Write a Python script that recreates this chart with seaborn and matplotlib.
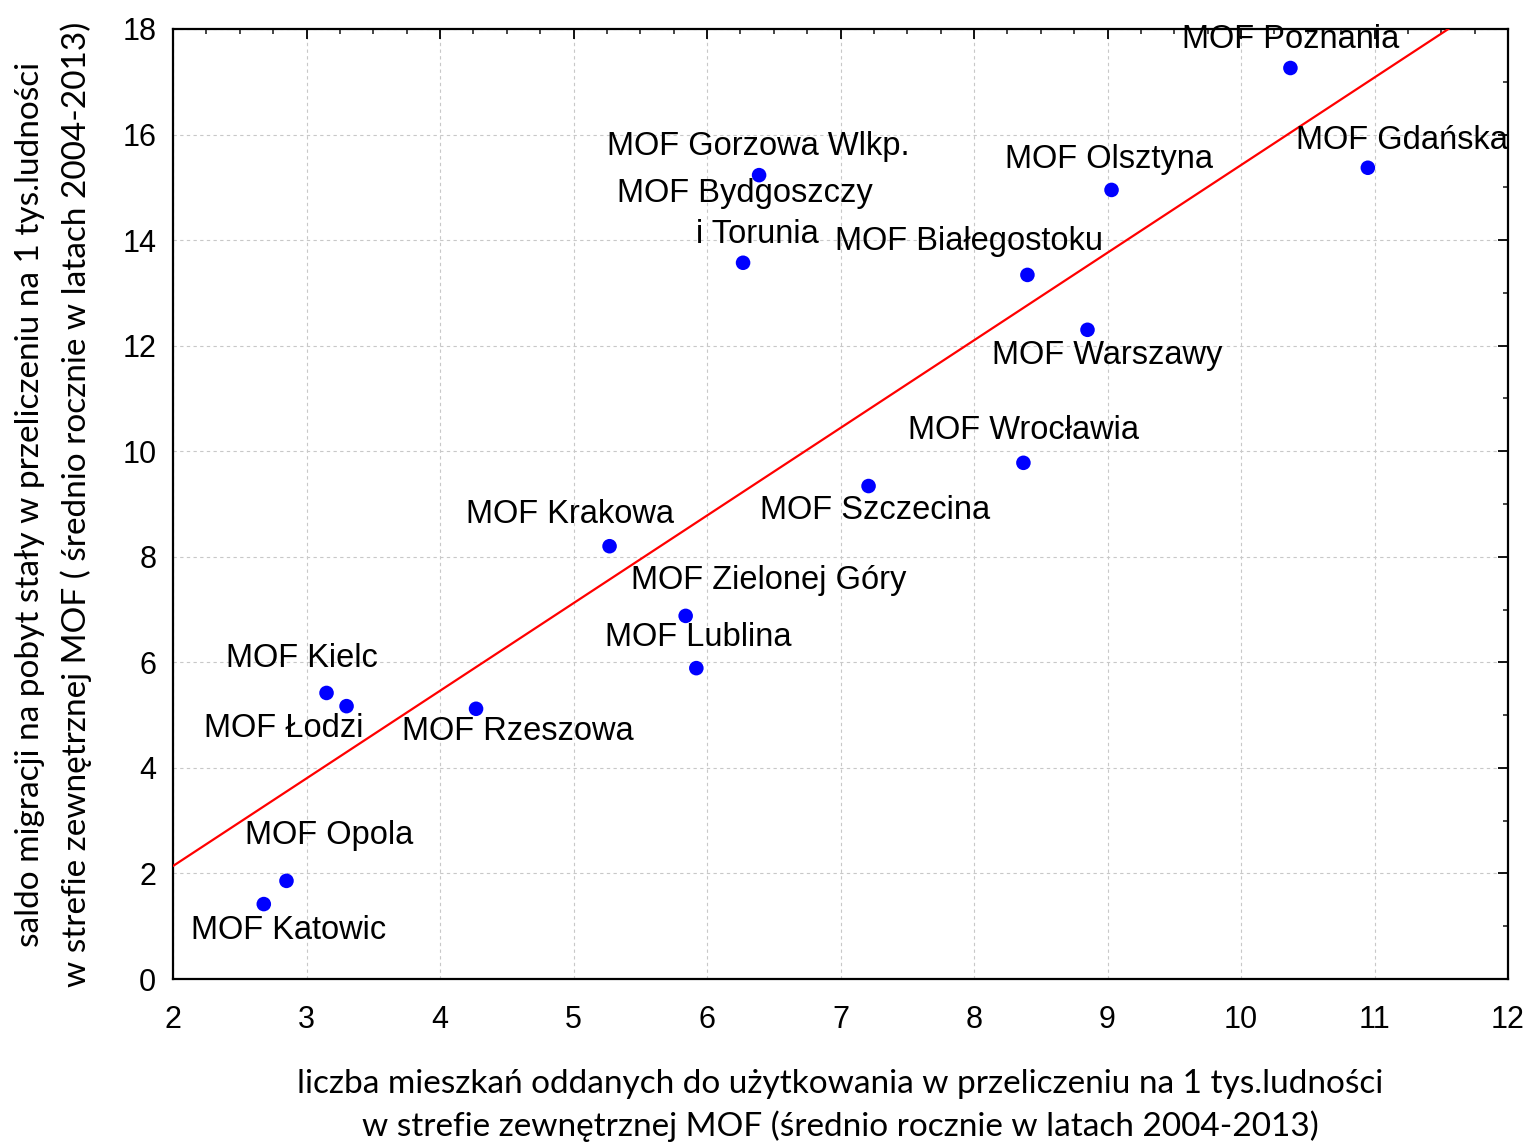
import matplotlib
matplotlib.use("Agg")
import matplotlib.pyplot as plt
from matplotlib.ticker import MultipleLocator
import seaborn as sns
import pandas as pd

# ---- data ----
names = ["MOF Poznania", "MOF Gdańska", "MOF Olsztyna", "MOF Gorzowa Wlkp.",
         "MOF Bydgoszczy\ni Torunia", "MOF Białegostoku", "MOF Warszawy",
         "MOF Wrocławia", "MOF Szczecina", "MOF Krakowa", "MOF Zielonej Góry",
         "MOF Lublina", "MOF Kielc", "MOF Łodzi", "MOF Rzeszowa",
         "MOF Opola", "MOF Katowic"]
mieszkania = [10.37, 10.95, 9.03, 6.39, 6.27, 8.40, 8.85, 8.37, 7.21, 5.27,
              5.84, 5.92, 3.15, 3.30, 4.27, 2.85, 2.68]
saldo = [17.26, 15.37, 14.95, 15.23, 13.57, 13.34, 12.30, 9.78, 9.34, 8.20,
         6.88, 5.89, 5.42, 5.17, 5.12, 1.86, 1.42]
x_ticks = [2, 3, 4, 5, 6, 7, 8, 9, 10, 11, 12]
y_ticks = [0, 2, 4, 6, 8, 10, 12, 14, 16, 18]
xlabel = "liczba mieszkań oddanych do użytkowania w przeliczeniu na 1 tys.ludności\nw strefie zewnętrznej MOF (średnio rocznie w latach 2004-2013)"
ylabel = "saldo migracji na pobyt stały w przeliczeniu na 1 tys.ludności\nw strefie zewnętrznej MOF ( średnio rocznie w latach 2004-2013)"

df = pd.DataFrame({"name": names, "x": mieszkania, "y": saldo})

# label offsets (pixels: left edge dx, vertical-centre dy, positive = up)
label_offsets = {
    "MOF Poznania": (-108, 29), "MOF Gdańska": (-72, 27), "MOF Olsztyna": (-107, 30),
    "MOF Gorzowa Wlkp.": (-152, 29), "MOF Białegostoku": (-192, 33),
    "MOF Warszawy": (-95, -26), "MOF Wrocławia": (-115, 32), "MOF Szczecina": (-109, -24),
    "MOF Krakowa": (-144, 32), "MOF Zielonej Góry": (-55, 35), "MOF Lublina": (-91, 31),
    "MOF Kielc": (-101, 34), "MOF Łodzi": (-143, -22), "MOF Rzeszowa": (-74, -23),
    "MOF Opola": (-41, 45), "MOF Katowic": (-73, -26),
}

sns.set_theme(style="white")
plt.rcParams["font.family"] = ["Liberation Sans", "DejaVu Sans"]

fig = plt.figure(figsize=(15.31, 11.44), dpi=100)
ax = fig.add_axes([0.113, 0.1442, 0.872, 0.8305])
ax.set_xlim(2, 12)
ax.set_ylim(0, 18)

sns.regplot(data=df, x="x", y="y", ax=ax, ci=None, truncate=False,
            scatter_kws=dict(s=110, color="#0000FF", edgecolor="none", alpha=1, zorder=4),
            line_kws=dict(color="#FF0000", lw=1.6, zorder=3))
ax.set_xlim(2, 12)
ax.set_ylim(0, 18)

FS = 23.5
for _, r in df.iterrows():
    if r["name"].startswith("MOF Bydgoszczy"):
        ax.annotate("MOF Bydgoszczy", (r["x"], r["y"]), xytext=(2, 69),
                    textcoords="offset pixels", ha="center", va="center", fontsize=FS,
                    color="black", zorder=5, annotation_clip=False)
        ax.annotate("i Torunia", (r["x"], r["y"]), xytext=(14, 28),
                    textcoords="offset pixels", ha="center", va="center", fontsize=FS,
                    color="black", zorder=5, annotation_clip=False)
        continue
    dx, dy = label_offsets[r["name"]]
    ax.annotate(r["name"], (r["x"], r["y"]), xytext=(dx, dy),
                textcoords="offset pixels", ha="left", va="center", fontsize=FS,
                color="black", zorder=5, annotation_clip=False)

ax.set_xticks(x_ticks)
ax.set_yticks(y_ticks)
ax.set_xticklabels([str(t) for t in x_ticks])
ax.set_yticklabels([str(t) for t in y_ticks])
ax.xaxis.set_minor_locator(MultipleLocator(0.25))
ax.yaxis.set_minor_locator(MultipleLocator(1))
ax.tick_params(axis="both", which="major", direction="in", length=7, width=1.3,
               top=True, right=True, labelsize=22, pad=12, colors="black")
ax.tick_params(axis="x", which="major", pad=19)
ax.tick_params(axis="both", which="minor", direction="in", length=3.5, width=1.2,
               top=True, right=True)
ax.grid(True, which="major", color="#c8c8c8", linestyle=(0, (3, 3)), linewidth=0.8)
for s in ax.spines.values():
    s.set_color("black")
    s.set_linewidth(1.6)

ax.set_xlabel(xlabel, fontsize=24, family=["Lato", "DejaVu Sans"], labelpad=24,
              linespacing=1.45, color="black")
ax.set_ylabel(ylabel, fontsize=24, family=["Lato", "DejaVu Sans"], labelpad=22,
              linespacing=1.6, color="black")

fig.savefig("out.png", dpi=100)
